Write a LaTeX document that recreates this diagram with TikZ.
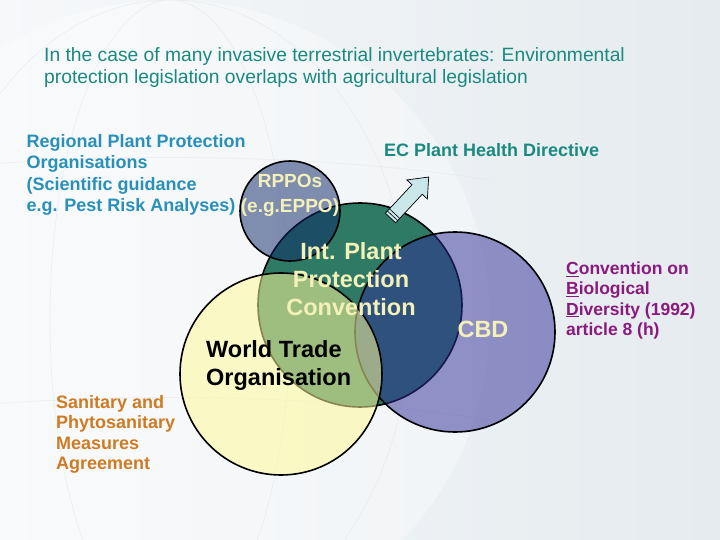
\documentclass[tikz,border=0pt]{standalone}
\usepackage{fontspec}
\setmainfont{Liberation Sans}
\usepackage{tikz}
\usetikzlibrary{calc}

\begin{document}
\begin{tikzpicture}[x=1pt, y=-1pt,
  lbl/.style={inner sep=0pt, align=left},
  ring/.style={draw=black, line width=1.6pt}]
% --- CORES HEX, CIRCULOS SEMI-TRANSPARENTES ---
\definecolor{bgleft}{HTML}{F6F8FA}
\definecolor{bgright}{HTML}{E5EBEF}
\definecolor{globeline}{HTML}{DCE4E9}
\definecolor{ippcfill}{HTML}{2F7A65}
\definecolor{cbdfill}{HTML}{2E2C95}
\definecolor{rppofill}{HTML}{0A2466}
\definecolor{wtofill}{HTML}{FFFB97}
\definecolor{arrowfill}{HTML}{C9E6E8}
\definecolor{titleteal}{HTML}{1A8A80}
\definecolor{rppoblue}{HTML}{2990BA}
\definecolor{paleyellow}{HTML}{F3F0B8}
\definecolor{cbdpurple}{HTML}{8B1A7E}
\definecolor{spsorange}{HTML}{CF7B24}

% LAYER 0: Fundo com globo
\useasboundingbox (0,0) rectangle (720,540);
\shade[left color=bgleft, right color=bgright] (0,0) rectangle (720,540);
\begin{scope}
\clip (0,0) rectangle (720,540);
\fill[white, opacity=0.35] (170,320) circle (320);
\draw[globeline, line width=0.7pt, opacity=0.45] (170,320) ellipse (120 and 320) (170,320) ellipse (240 and 320);
\draw[globeline, line width=0.7pt, opacity=0.45] (-150,180) .. controls (40,150) and (300,150) .. (490,180);
\draw[globeline, line width=0.7pt, opacity=0.45] (-150,420) .. controls (40,390) and (300,390) .. (490,420);
\end{scope}

% LAYER 1: IPPC
\draw[ring, fill=ippcfill] (360,305) circle (102);

% LAYER 2: CBD e RPPO
\draw[ring, fill=cbdfill, fill opacity=0.5] (455,332) circle (100);
\draw[ring, fill=rppofill, fill opacity=0.5] (290,211) circle (50);

% LAYER 3: Seta para a directiva
\begin{scope}[shift={(390.5,218)}, rotate=47]
\draw[fill=arrowfill, line width=0.7pt] (0,-7) -- (39,-7) -- (39,-14) -- (56,0) -- (39,14) -- (39,7) -- (0,7) -- cycle;
\draw[line width=0.6pt] (3,-7) -- (3,7) (6,-7) -- (6,7);
\end{scope}

% LAYER 4: WTO
\draw[ring, fill=wtofill, fill opacity=0.53] (281,374) circle (101);

% LAYER 5: Textos
\node[lbl, anchor=north west, text=titleteal, font=\fontsize{19.25}{22}\selectfont] (title) at (44,45.6)
  {\strut In the case of many invasive terrestrial invertebrates: Environmental\\protection legislation overlaps with agricultural legislation};
\node[lbl, anchor=north west, text=rppoblue, font=\bfseries\fontsize{18}{21.5}\selectfont] (rppoinfo) at (26.5,132)
  {\strut Regional Plant Protection\\Organisations\\(Scientific guidance\\e.g. Pest Risk Analyses)};
\node[lbl, anchor=base west, text=titleteal, font=\bfseries\fontsize{18}{21.6}\selectfont] (ecdir) at (384,157) {EC Plant Health Directive};
\node[lbl, align=center, anchor=north, text=paleyellow, font=\bfseries\fontsize{19}{25}\selectfont] (rppo) at (290,169.5) {\strut RPPOs\\(e.g.EPPO)};
\node[lbl, align=center, anchor=north, text=paleyellow, font=\bfseries\fontsize{23.5}{28}\selectfont] (ippc) at (351,239.4) {\strut Int. Plant\\Protection\\Convention};
\node[lbl, anchor=base, text=paleyellow, font=\bfseries\fontsize{23.5}{28}\selectfont] (cbd) at (483,337) {CBD};
\node[lbl, anchor=north west, text=black, font=\bfseries\fontsize{23.5}{28}\selectfont] (wto) at (206,337.4) {\strut World Trade\\Organisation};
\node[lbl, anchor=north west, text=cbdpurple, font=\bfseries\fontsize{17.5}{20.5}\selectfont] (cbdinfo) at (566,259.6)
  {\strut\underline{C}onvention on\\\underline{B}iological\\\underline{D}iversity (1992)\\article 8 (h)};
\node[lbl, anchor=north west, text=spsorange, font=\bfseries\fontsize{18}{20.5}\selectfont] (spsinfo) at (56,393.6)
  {\strut Sanitary and\\Phytosanitary\\Measures\\Agreement};
\end{tikzpicture}
\end{document}
